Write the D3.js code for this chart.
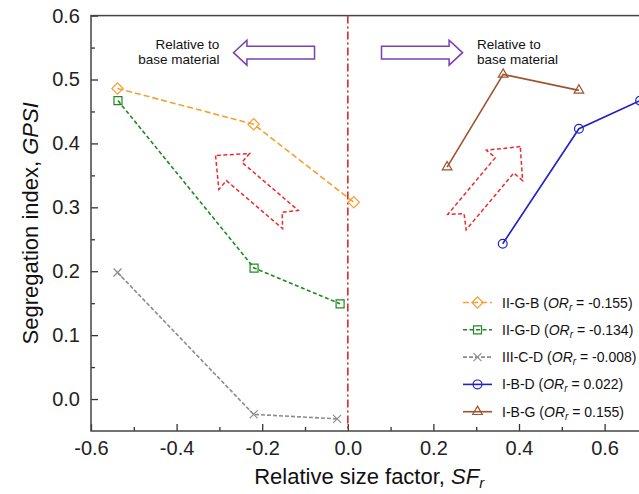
<!DOCTYPE html>
<html>
<head>
<meta charset="utf-8">
<script src="https://cdn.jsdelivr.net/npm/d3@7"></script>
<style>
  body { margin: 0; background: #fff; }
  svg { display: block; }
  text { font-family: "Liberation Sans", Arial, sans-serif; }
</style>
</head>
<body>
<div id="chart"></div>
<script>
// data
var seriesNames = ["II-G-B", "II-G-D", "III-C-D", "I-B-D", "I-B-G"];
var orValues = ["-0.155", "-0.134", "-0.008", "0.022", "0.155"];
var sfIIGB = [-0.538, -0.220, 0.014];
var gpsiIIGB = [0.486, 0.430, 0.308];
var sfIIGD = [-0.537, -0.219, -0.018];
var gpsiIIGD = [0.467, 0.205, 0.149];
var sfIIICD = [-0.538, -0.220, -0.025];
var gpsiIIICD = [0.198, -0.024, -0.031];
var sfIBD = [0.362, 0.540, 0.683];
var gpsiIBD = [0.243, 0.423, 0.467];
var sfIBG = [0.232, 0.363, 0.540];
var gpsiIBG = [0.363, 0.508, 0.483];
var xTicks = [-0.6, -0.4, -0.2, 0.0, 0.2, 0.4, 0.6];
var xMinor = [-0.5, -0.3, -0.1, 0.1, 0.3, 0.5];
var yTicks = [0.0, 0.1, 0.2, 0.3, 0.4, 0.5, 0.6];
var yMinor = [0.05, 0.15, 0.25, 0.35, 0.45, 0.55];

//Settings
var width = 639;
var height = 494;
var colors = ["#f7a030", "#1f8a1f", "#8c8c8c", "#2020cc", "#a0522d"];
var dashes = ["6,3", "4,2.5", "4,2", null, null];
var markers = ["diamond", "square", "cross", "circle", "triangle"];
var series = [
    {x: sfIIGB, y: gpsiIIGB},
    {x: sfIIGD, y: gpsiIIGD},
    {x: sfIIICD, y: gpsiIIICD},
    {x: sfIBD, y: gpsiIBD},
    {x: sfIBG, y: gpsiIBG}
];
var fmt = function(d) { return d3.format(".1f")(d).replace("\u2212", "-"); };

var svg = d3.select("#chart").append("svg")
    .attr("width", width)
    .attr("height", height);

var x = d3.scaleLinear().domain([-0.6, 0.7]).range([91, 647.4]);
var y = d3.scaleLinear().domain([-0.05, 0.6]).range([431, 15.6]);

//axes, ticks pointing inward
var xAxis = d3.axisBottom(x).tickValues(xTicks).tickSize(-7).tickSizeOuter(0)
    .tickPadding(10).tickFormat(fmt);
var yAxis = d3.axisLeft(y).tickValues(yTicks).tickSize(-7).tickSizeOuter(0)
    .tickPadding(11).tickFormat(fmt);

var xAxisGroup = svg.append("g").attr("transform", "translate(0," + y.range()[0] + ")").call(xAxis);
var xMinorGroup = svg.append("g").attr("transform", "translate(0," + y.range()[0] + ")")
    .call(d3.axisBottom(x).tickValues(xMinor).tickSize(-4).tickSizeOuter(0).tickFormat(""));
var yAxisGroup = svg.append("g").attr("transform", "translate(" + x.range()[0] + ",0)").call(yAxis);
var yMinorGroup = svg.append("g").attr("transform", "translate(" + x.range()[0] + ",0)")
    .call(d3.axisLeft(y).tickValues(yMinor).tickSize(-4).tickSizeOuter(0).tickFormat(""));

svg.selectAll(".domain").remove();
svg.selectAll(".tick line").attr("stroke", "#333").attr("stroke-width", 1.3);
svg.selectAll(".tick text").attr("fill", "#222").style("font-size", "20px")
    .style("font-family", "'Liberation Sans', Arial, sans-serif");

//frame
svg.append("rect")
    .attr("x", x.range()[0])
    .attr("y", y.range()[1])
    .attr("width", x.range()[1] - x.range()[0])
    .attr("height", y.range()[0] - y.range()[1])
    .attr("fill", "none")
    .attr("stroke", "#444")
    .attr("stroke-width", 1.5);

//zero line
svg.append("line")
    .attr("x1", x(0)).attr("x2", x(0))
    .attr("y1", y.range()[1]).attr("y2", y.range()[0])
    .attr("stroke", "#e02828")
    .attr("stroke-width", 1.6)
    .attr("stroke-dasharray", "8,3,2,3");

//titles
var xTitle = svg.append("text")
    .attr("x", (x.range()[0] + x.range()[1]) / 2)
    .attr("y", 484)
    .attr("text-anchor", "middle")
    .style("font-size", "22px")
    .attr("fill", "#111");
xTitle.append("tspan").text("Relative size factor, ");
xTitle.append("tspan").style("font-style", "italic").text("SF");
xTitle.append("tspan").style("font-style", "italic").style("font-size", "15px").attr("dy", 4).text("r");

var yTitle = svg.append("text")
    .attr("transform", "translate(38," + ((y.range()[0] + y.range()[1]) / 2) + ") rotate(-90)")
    .attr("text-anchor", "middle")
    .style("font-size", "22px")
    .attr("fill", "#111");
yTitle.append("tspan").text("Segregation index, ");
yTitle.append("tspan").style("font-style", "italic").text("GPSI");

//hollow block arrows: tip at origin, pointing +x
function blockArrow(len, headLen, headHalf, shaftHalf, notch) {
    var pts = [[0, 0], [-headLen, -headHalf], [-headLen, -shaftHalf], [-len, -shaftHalf],
        [-len + notch, 0], [-len, shaftHalf], [-headLen, shaftHalf], [-headLen, headHalf]];
    return "M" + pts.map(function(p) { return p.join(","); }).join("L") + "Z";
}

// purple arrows + notes
svg.append("path")
    .attr("d", blockArrow(81, 13.4, 12.5, 6.3, 0))
    .attr("transform", "translate(" + x(-0.267) + "," + y(0.542) + ") rotate(180)")
    .attr("fill", "none").attr("stroke", "#7b3fb5").attr("stroke-width", 1.5);
svg.append("path")
    .attr("d", blockArrow(81, 13.4, 12.5, 6.3, 0))
    .attr("transform", "translate(" + x(0.268) + "," + y(0.542) + ")")
    .attr("fill", "none").attr("stroke", "#7b3fb5").attr("stroke-width", 1.5);

var noteLeft = svg.append("text")
    .attr("x", x(-0.30)).attr("y", y(0.548))
    .attr("text-anchor", "end")
    .style("font-size", "13.5px").attr("fill", "#111");
noteLeft.append("tspan").attr("x", x(-0.30)).text("Relative to");
noteLeft.append("tspan").attr("x", x(-0.30)).attr("dy", 15).text("base material");

var noteRight = svg.append("text")
    .attr("x", x(0.302)).attr("y", y(0.548))
    .style("font-size", "13.5px").attr("fill", "#111");
noteRight.append("tspan").attr("x", x(0.302)).text("Relative to");
noteRight.append("tspan").attr("x", x(0.302)).attr("dy", 15).text("base material");

// red dashed arrows
svg.append("path")
    .attr("d", blockArrow(98.5, 24.5, 23.6, 12, 11))
    .attr("transform", "translate(" + x(-0.309) + "," + y(0.381) + ") rotate(-139.5)")
    .attr("fill", "none").attr("stroke", "#ee2a2a").attr("stroke-width", 1.5)
    .attr("stroke-dasharray", "4,2.5");
svg.append("path")
    .attr("d", blockArrow(98.5, 24.5, 23.6, 12, 11))
    .attr("transform", "translate(" + x(0.403) + "," + y(0.395) + ") rotate(-50)")
    .attr("fill", "none").attr("stroke", "#ee2a2a").attr("stroke-width", 1.5)
    .attr("stroke-dasharray", "4,2.5");

//markers
function marker(sel, type, color) {
    if (type == "diamond") {
        sel.append("path").attr("d", d3.symbol(d3.symbolSquare, 64)())
            .attr("transform", "rotate(45)");
    } else if (type == "square") {
        sel.append("path").attr("d", d3.symbol(d3.symbolSquare, 64)());
    } else if (type == "circle") {
        sel.append("circle").attr("r", 4.4);
    } else if (type == "triangle") {
        sel.append("path").attr("d", d3.symbol(d3.symbolTriangle, 40)());
    } else {
        sel.append("path").attr("d", "M-4,-4L4,4M-4,4L4,-4");
    }
    sel.selectAll("path,circle").attr("fill", "none").attr("stroke", color).attr("stroke-width", 1.2);
}

var line = d3.line().x(function(d) { return x(d[0]); }).y(function(d) { return y(d[1]); });

var plot = svg.append("g");
series.forEach(function(s, i) {
    var pts = s.x.map(function(v, j) { return [v, s.y[j]]; });
    plot.append("path")
        .attr("d", line(pts))
        .attr("fill", "none")
        .attr("stroke", colors[i])
        .attr("stroke-width", 1.6)
        .attr("stroke-dasharray", dashes[i]);
    plot.selectAll(".m" + i)
        .data(pts)
        .enter()
        .append("g")
        .attr("transform", function(d) { return "translate(" + x(d[0]) + "," + y(d[1]) + ")"; })
        .each(function() { marker(d3.select(this), markers[i], colors[i]); });
});

//legend
var legend = svg.append("g");
seriesNames.forEach(function(name, i) {
    var ly = 302.5 + i * 27.3;
    legend.append("line")
        .attr("x1", 463).attr("x2", 492)
        .attr("y1", ly).attr("y2", ly)
        .attr("stroke", colors[i]).attr("stroke-width", 1.6)
        .attr("stroke-dasharray", dashes[i]);
    var g = legend.append("g").attr("transform", "translate(477.5," + ly + ")");
    marker(g, markers[i], colors[i]);
    var t = legend.append("text")
        .attr("x", 502).attr("y", ly + 5)
        .style("font-size", "14px").attr("fill", "#111");
    t.append("tspan").text(name + " (");
    t.append("tspan").style("font-style", "italic").text("OR");
    t.append("tspan").style("font-style", "italic").style("font-size", "10px").attr("dy", 3).text("r");
    t.append("tspan").attr("dy", -3).text(" = " + orValues[i] + ")");
});
</script>
</body>
</html>
